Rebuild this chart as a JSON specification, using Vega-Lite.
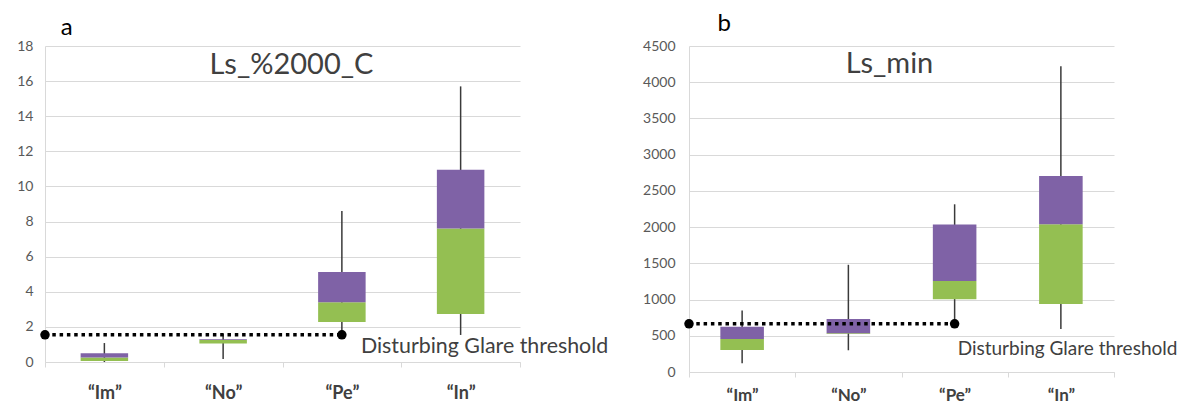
{
  "$schema": "https://vega.github.io/schema/vega-lite/v6.json",
  "background": "white",
  "padding": {"left": 16, "top": 12, "right": 0, "bottom": 0},
  "spacing": 33,
  "config": {
    "font": "Lato",
    "view": {"stroke": null},
    "axis": {"labelFont": "Lato", "titleFont": "Lato"},
    "title": {"font": "Lato"}
  },
  "hconcat": [
    {
      "title": {"text": "a", "anchor": "start", "fontSize": 24, "fontWeight": "normal", "color": "#000000", "dx": 44, "offset": -1},
      "vconcat": [
        {
          "width": 475,
          "height": 316,
          "title": {"text": "Ls_%2000_C", "offset": -41, "dx": 9, "fontSize": 29, "fontWeight": "normal", "color": "#404040"},
          "data": {"values": [
            {"cat": "“Im”", "min": 0.0, "q1": 0.05, "med": 0.25, "q3": 0.5, "max": 1.08},
            {"cat": "“No”", "min": 0.17, "q1": 1.05, "med": 1.25, "q3": 1.3, "max": 1.6},
            {"cat": "“Pe”", "min": 1.55, "q1": 2.28, "med": 3.4, "q3": 5.13, "max": 8.6},
            {"cat": "“In”", "min": 1.54, "q1": 2.73, "med": 7.6, "q3": 10.95, "max": 15.7}
          ]},
          "layer": [
            {
              "mark": {"type": "rule", "color": "#3a3a3a", "strokeWidth": 1.5},
              "encoding": {
                "x": {"field": "cat", "type": "nominal", "sort": null,
                  "scale": {"domain": ["“Im”", "“No”", "“Pe”", "“In”"], "paddingInner": 0, "paddingOuter": 0},
                  "axis": {"title": null, "labelAngle": 0, "labelFontSize": 18, "labelFontWeight": "bold", "labelColor": "#404040", "labelPadding": 17, "tickBand": "extent", "tickSize": 5, "tickColor": "#d9d9d9", "domainColor": "#d9d9d9", "grid": false}},
                "y": {"field": "min", "type": "quantitative",
                  "scale": {"domain": [0, 18], "nice": false},
                  "axis": {"title": null, "values": [0, 2, 4, 6, 8, 10, 12, 14, 16, 18], "labelOverlap": false, "labelFontSize": 14, "labelColor": "#595959", "ticks": false, "labelPadding": 12, "gridColor": "#d9d9d9", "domainColor": "#d9d9d9"}},
                "y2": {"field": "max"}
              }
            },
            {
              "mark": {"type": "bar", "color": "#94bf52", "width": {"band": 0.4}},
              "encoding": {
                "x": {"field": "cat", "type": "nominal", "sort": null},
                "y": {"field": "q1", "type": "quantitative",
                  "axis": {"title": null, "values": [0, 2, 4, 6, 8, 10, 12, 14, 16, 18], "labelOverlap": false, "labelFontSize": 14, "labelColor": "#595959", "ticks": false, "labelPadding": 12, "gridColor": "#d9d9d9", "domainColor": "#d9d9d9"}},
                "y2": {"field": "med"}
              }
            },
            {
              "mark": {"type": "bar", "color": "#7f62a6", "width": {"band": 0.4}},
              "encoding": {
                "x": {"field": "cat", "type": "nominal", "sort": null},
                "y": {"field": "med", "type": "quantitative",
                  "axis": {"title": null, "values": [0, 2, 4, 6, 8, 10, 12, 14, 16, 18], "labelOverlap": false, "labelFontSize": 14, "labelColor": "#595959", "ticks": false, "labelPadding": 12, "gridColor": "#d9d9d9", "domainColor": "#d9d9d9"}},
                "y2": {"field": "q3"}
              }
            },
            {
              "data": {"values": [{"from": "“Im”", "to": "“Pe”", "thr": 1.55, "label": "Disturbing Glare threshold"}]},
              "layer": [
                {
                  "mark": {"type": "rule", "color": "#000000", "strokeWidth": 3.5, "strokeDash": [3.5, 3.8]},
                  "encoding": {
                    "x": {"field": "from", "type": "nominal", "bandPosition": 0},
                    "x2": {"field": "to", "bandPosition": 0.5},
                    "y": {"field": "thr", "type": "quantitative",
                      "axis": {"title": null, "values": [0, 2, 4, 6, 8, 10, 12, 14, 16, 18], "labelOverlap": false, "labelFontSize": 14, "labelColor": "#595959", "ticks": false, "labelPadding": 12, "gridColor": "#d9d9d9", "domainColor": "#d9d9d9"}}
                  }
                },
                {
                  "mark": {"type": "circle", "color": "#000000", "size": 90, "opacity": 1},
                  "encoding": {
                    "x": {"field": "from", "type": "nominal", "bandPosition": 0},
                    "y": {"field": "thr", "type": "quantitative",
                      "axis": {"title": null, "values": [0, 2, 4, 6, 8, 10, 12, 14, 16, 18], "labelOverlap": false, "labelFontSize": 14, "labelColor": "#595959", "ticks": false, "labelPadding": 12, "gridColor": "#d9d9d9", "domainColor": "#d9d9d9"}}
                  }
                },
                {
                  "mark": {"type": "circle", "color": "#000000", "size": 90, "opacity": 1},
                  "encoding": {
                    "x": {"field": "to", "type": "nominal", "bandPosition": 0.5},
                    "y": {"field": "thr", "type": "quantitative",
                      "axis": {"title": null, "values": [0, 2, 4, 6, 8, 10, 12, 14, 16, 18], "labelOverlap": false, "labelFontSize": 14, "labelColor": "#595959", "ticks": false, "labelPadding": 12, "gridColor": "#d9d9d9", "domainColor": "#d9d9d9"}}
                  }
                },
                {
                  "mark": {"type": "text", "align": "left", "baseline": "middle", "dx": 19, "dy": 12, "fontSize": 21.4, "color": "#404040"},
                  "encoding": {
                    "x": {"field": "to", "type": "nominal", "bandPosition": 0.5},
                    "y": {"field": "thr", "type": "quantitative",
                      "axis": {"title": null, "values": [0, 2, 4, 6, 8, 10, 12, 14, 16, 18], "labelOverlap": false, "labelFontSize": 14, "labelColor": "#595959", "ticks": false, "labelPadding": 12, "gridColor": "#d9d9d9", "domainColor": "#d9d9d9"}},
                    "text": {"field": "label"}
                  }
                }
              ]
            }
          ]
        }
      ]
    },
    {
      "title": {"text": "b", "anchor": "start", "fontSize": 24, "fontWeight": "normal", "color": "#000000", "dx": 75, "offset": 3},
      "vconcat": [
        {
          "width": 425,
          "height": 326,
          "title": {"text": "Ls_min", "offset": -40, "dx": -12, "fontSize": 29, "fontWeight": "normal", "color": "#404040"},
          "data": {"values": [
            {"cat": "“Im”", "min": 120, "q1": 303, "med": 455, "q3": 625, "max": 850},
            {"cat": "“No”", "min": 300, "q1": 525, "med": 535, "q3": 730, "max": 1480},
            {"cat": "“Pe”", "min": 665, "q1": 1005, "med": 1255, "q3": 2035, "max": 2315},
            {"cat": "“In”", "min": 595, "q1": 938, "med": 2040, "q3": 2705, "max": 4220}
          ]},
          "layer": [
            {
              "mark": {"type": "rule", "color": "#3a3a3a", "strokeWidth": 1.5},
              "encoding": {
                "x": {"field": "cat", "type": "nominal", "sort": null,
                  "scale": {"domain": ["“Im”", "“No”", "“Pe”", "“In”"], "paddingInner": 0, "paddingOuter": 0},
                  "axis": {"title": null, "labelAngle": 0, "labelFontSize": 17, "labelFontWeight": "bold", "labelColor": "#404040", "labelPadding": 10, "tickBand": "extent", "tickSize": 5, "tickColor": "#d9d9d9", "domainColor": "#d9d9d9", "grid": false}},
                "y": {"field": "min", "type": "quantitative",
                  "scale": {"domain": [0, 4500], "nice": false},
                  "axis": {"title": null, "values": [0, 500, 1000, 1500, 2000, 2500, 3000, 3500, 4000, 4500], "format": "d", "labelOverlap": false, "labelFontSize": 14, "labelColor": "#595959", "ticks": false, "labelPadding": 14, "gridColor": "#d9d9d9", "domainColor": "#d9d9d9"}},
                "y2": {"field": "max"}
              }
            },
            {
              "mark": {"type": "bar", "color": "#94bf52", "width": {"band": 0.41}},
              "encoding": {
                "x": {"field": "cat", "type": "nominal", "sort": null},
                "y": {"field": "q1", "type": "quantitative",
                  "axis": {"title": null, "values": [0, 500, 1000, 1500, 2000, 2500, 3000, 3500, 4000, 4500], "format": "d", "labelOverlap": false, "labelFontSize": 14, "labelColor": "#595959", "ticks": false, "labelPadding": 14, "gridColor": "#d9d9d9", "domainColor": "#d9d9d9"}},
                "y2": {"field": "med"}
              }
            },
            {
              "mark": {"type": "bar", "color": "#7f62a6", "width": {"band": 0.41}},
              "encoding": {
                "x": {"field": "cat", "type": "nominal", "sort": null},
                "y": {"field": "med", "type": "quantitative",
                  "axis": {"title": null, "values": [0, 500, 1000, 1500, 2000, 2500, 3000, 3500, 4000, 4500], "format": "d", "labelOverlap": false, "labelFontSize": 14, "labelColor": "#595959", "ticks": false, "labelPadding": 14, "gridColor": "#d9d9d9", "domainColor": "#d9d9d9"}},
                "y2": {"field": "q3"}
              }
            },
            {
              "data": {"values": [{"from": "“Im”", "to": "“Pe”", "thr": 665, "label": "Disturbing Glare threshold"}]},
              "layer": [
                {
                  "mark": {"type": "rule", "color": "#000000", "strokeWidth": 3.5, "strokeDash": [3.5, 3.8]},
                  "encoding": {
                    "x": {"field": "from", "type": "nominal", "bandPosition": 0},
                    "x2": {"field": "to", "bandPosition": 0.5},
                    "y": {"field": "thr", "type": "quantitative",
                      "axis": {"title": null, "values": [0, 500, 1000, 1500, 2000, 2500, 3000, 3500, 4000, 4500], "format": "d", "labelOverlap": false, "labelFontSize": 14, "labelColor": "#595959", "ticks": false, "labelPadding": 14, "gridColor": "#d9d9d9", "domainColor": "#d9d9d9"}}
                  }
                },
                {
                  "mark": {"type": "circle", "color": "#000000", "size": 90, "opacity": 1},
                  "encoding": {
                    "x": {"field": "from", "type": "nominal", "bandPosition": 0},
                    "y": {"field": "thr", "type": "quantitative",
                      "axis": {"title": null, "values": [0, 500, 1000, 1500, 2000, 2500, 3000, 3500, 4000, 4500], "format": "d", "labelOverlap": false, "labelFontSize": 14, "labelColor": "#595959", "ticks": false, "labelPadding": 14, "gridColor": "#d9d9d9", "domainColor": "#d9d9d9"}}
                  }
                },
                {
                  "mark": {"type": "circle", "color": "#000000", "size": 90, "opacity": 1},
                  "encoding": {
                    "x": {"field": "to", "type": "nominal", "bandPosition": 0.5},
                    "y": {"field": "thr", "type": "quantitative",
                      "axis": {"title": null, "values": [0, 500, 1000, 1500, 2000, 2500, 3000, 3500, 4000, 4500], "format": "d", "labelOverlap": false, "labelFontSize": 14, "labelColor": "#595959", "ticks": false, "labelPadding": 14, "gridColor": "#d9d9d9", "domainColor": "#d9d9d9"}}
                  }
                },
                {
                  "mark": {"type": "text", "align": "left", "baseline": "middle", "dx": 3, "dy": 25, "fontSize": 19, "color": "#404040"},
                  "encoding": {
                    "x": {"field": "to", "type": "nominal", "bandPosition": 0.5},
                    "y": {"field": "thr", "type": "quantitative",
                      "axis": {"title": null, "values": [0, 500, 1000, 1500, 2000, 2500, 3000, 3500, 4000, 4500], "format": "d", "labelOverlap": false, "labelFontSize": 14, "labelColor": "#595959", "ticks": false, "labelPadding": 14, "gridColor": "#d9d9d9", "domainColor": "#d9d9d9"}},
                    "text": {"field": "label"}
                  }
                }
              ]
            }
          ]
        }
      ]
    }
  ]
}
